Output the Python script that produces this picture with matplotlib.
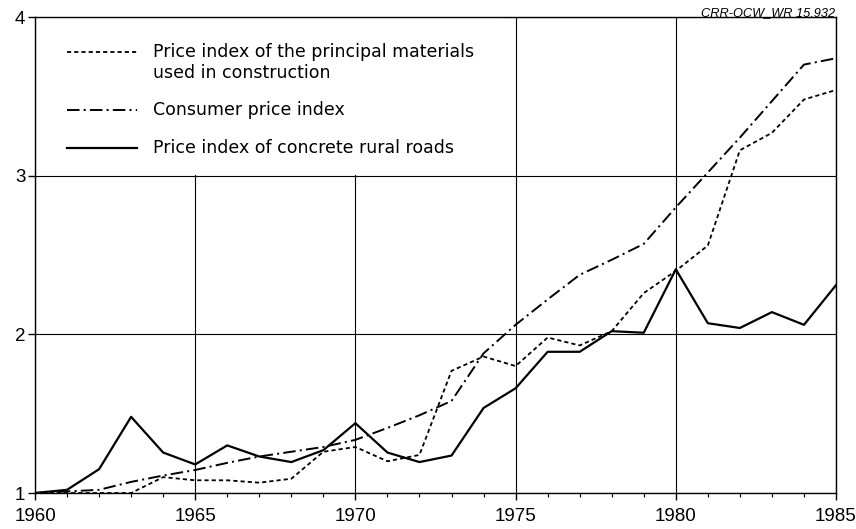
import matplotlib
matplotlib.use("Agg")
import matplotlib.pyplot as plt
from matplotlib.lines import Line2D
from matplotlib.patches import Rectangle

plt.rcParams['font.family'] = ['Liberation Sans', 'DejaVu Sans']
plt.rcParams['lines.scale_dashes'] = False

years = list(range(1960, 1986))

# Price index of the principal materials used in construction
materials = [1.00, 1.00, 1.00, 1.00, 1.10, 1.08, 1.08, 1.065, 1.09, 1.26,
             1.29, 1.20, 1.24, 1.77, 1.86, 1.80, 1.98, 1.93, 2.02, 2.26,
             2.40, 2.56, 3.16, 3.27, 3.48, 3.54]

# Consumer price index
consumer = [1.00, 1.01, 1.02, 1.07, 1.11, 1.145, 1.19, 1.23, 1.26, 1.29,
            1.335, 1.41, 1.49, 1.58, 1.88, 2.06, 2.22, 2.375, 2.47, 2.57,
            2.80, 3.02, 3.24, 3.47, 3.70, 3.74]

# Price index of concrete rural roads
roads = [1.00, 1.02, 1.15, 1.48, 1.255, 1.18, 1.30, 1.23, 1.195, 1.27,
         1.44, 1.255, 1.195, 1.236, 1.536, 1.66, 1.89, 1.89, 2.02, 2.01,
         2.41, 2.07, 2.04, 2.14, 2.06, 2.31]

labels = ["Price index of the principal materials\nused in construction",
          "Consumer price index",
          "Price index of concrete rural roads"]

dotted = (0, (3.0, 2.2))
dashdot = (0, (9.0, 3.0, 1.5, 3.0))

fig = plt.figure(figsize=(8.56, 5.29), dpi=100)
ax = fig.add_axes([35 / 856, 36 / 529, 801 / 856, 476 / 529])
ax.set_axisbelow(True)

ax.plot(years, materials, color='black', lw=1.3, linestyle=dotted, zorder=3)
ax.plot(years, consumer, color='black', lw=1.4, linestyle=dashdot, zorder=3)
ax.plot(years, roads, color='black', lw=1.6, linestyle='-', zorder=3)

ax.set_xlim(1960, 1985)
ax.set_ylim(1, 4)
ax.set_xticks([1960, 1965, 1970, 1975, 1980, 1985])
ax.set_xticks(years, minor=True)
ax.set_yticks([1, 2, 3, 4])
ax.grid(True, which='major', color='black', lw=0.8)
for s in ax.spines.values():
    s.set_linewidth(1.0)
ax.tick_params(axis='both', which='major', direction='out', length=5, width=1,
               labelsize=13.5)
ax.tick_params(axis='x', which='major', pad=6)
ax.tick_params(axis='y', which='major', pad=2)
ax.tick_params(axis='x', which='minor', direction='out', length=3, width=0.8)

# white area behind the legend hides the upper grid lines
ax.add_patch(Rectangle((1960.05, 3.006), 14.5, 0.99, facecolor='white',
                       edgecolor='none', zorder=1))

# legend drawn by hand
x0, x1, xt = 0.040, 0.127, 0.147
rows = [0.926, 0.805, 0.725]
line_gap = 21 / 476
styles = [(dotted, 1.3), (dashdot, 1.4), ('-', 1.6)]
for (ls, lw), yy, lab in zip(styles, rows, labels):
    ax.add_line(Line2D([x0, x1], [yy, yy], transform=ax.transAxes,
                       color='black', lw=lw, linestyle=ls, zorder=4))
    for k, part in enumerate(lab.split('\n')):
        ax.text(xt, yy - k * line_gap, part, transform=ax.transAxes,
                ha='left', va='center', fontsize=12.5,
                family=['DejaVu Sans'], zorder=4)

fig.text(835 / 856, 1 - 13 / 529, "CRR-OCW_WR 15.932", ha='right', va='center',
         fontsize=9.2, style='italic')

fig.savefig("out.png", dpi=100)
